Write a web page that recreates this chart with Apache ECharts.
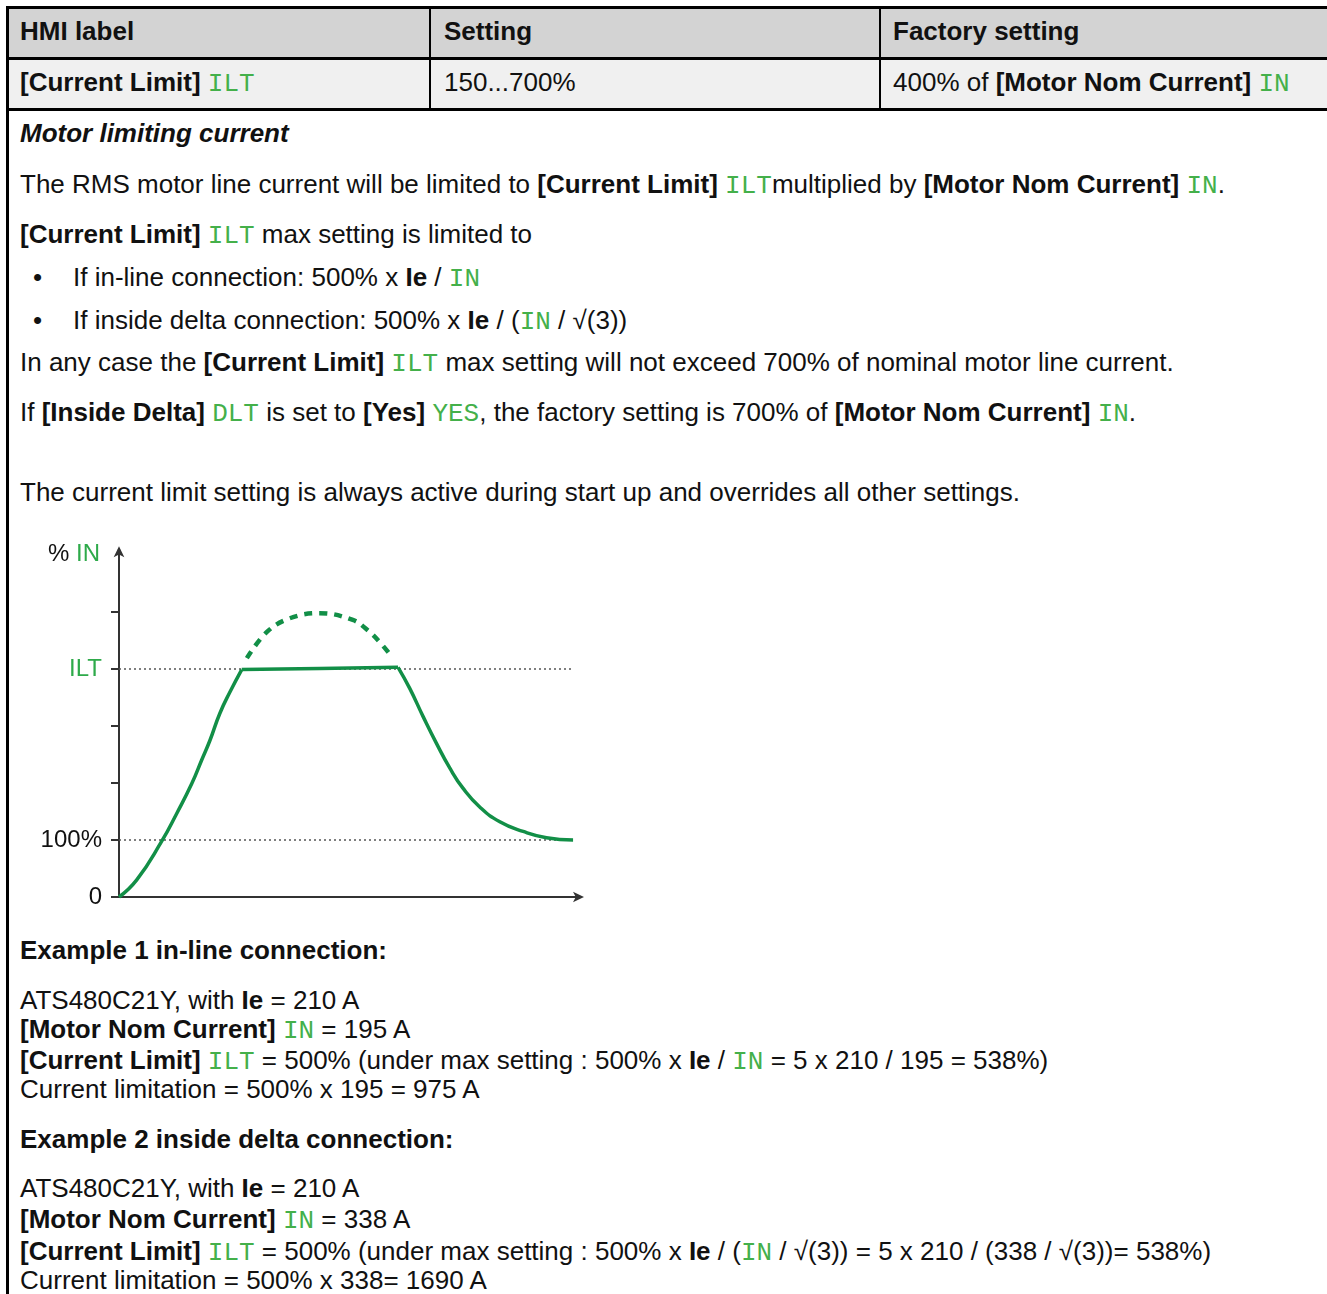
<!DOCTYPE html>
<html>
<head>
<meta charset="utf-8">
<script src="https://cdn.jsdelivr.net/npm/echarts@6/dist/echarts.min.js"></script>
<style>
  html, body { margin: 0; padding: 0; background: #fff; overflow: hidden; }
  body { width: 1327px; height: 1294px; position: relative; font-family: "Liberation Sans", Arial, sans-serif; font-size: 26px; color: #111; }
  .ln { position: absolute; white-space: nowrap; height: 26px; line-height: 26px; }
  .b { font-weight: bold; }
  .bi { font-weight: bold; font-style: italic; }
  .m { font-family: "Liberation Mono", "Courier New", monospace; color: #44b04a; font-size: 26px; display: inline-block; line-height: 22px; height: 22px; }
  .rule { position: absolute; background: #000; }
  .bg { position: absolute; }
</style>
</head>
<body>
<!-- table backgrounds -->
<div class="bg" style="left:7px; top:7px; width:1330px; height:51px; background:#d3d3d3;"></div>
<div class="bg" style="left:7px; top:58px; width:1330px; height:51px; background:#f0f0f0;"></div>
<!-- table rules -->
<div class="rule" style="left:6px; top:6px; width:1330px; height:3px;"></div>
<div class="rule" style="left:6px; top:57px; width:1330px; height:3px;"></div>
<div class="rule" style="left:6px; top:108px; width:1330px; height:3px;"></div>
<div class="rule" style="left:6px; top:6px; width:3px; height:1300px;"></div>
<div class="rule" style="left:429px; top:6px; width:2px; height:104px;"></div>
<div class="rule" style="left:879px; top:6px; width:2px; height:104px;"></div>

<div id="text"></div>
<div id="chart" style="position:absolute; left:0; top:530px; width:620px; height:380px;"></div>

<script>
// ---------- text content ----------
const headerCells = [
  { x: 20, y: 31, html: '<span class="b">HMI label</span>' },
  { x: 444, y: 31, html: '<span class="b">Setting</span>' },
  { x: 893, y: 31, html: '<span class="b">Factory setting</span>' },
  { x: 20, y: 82, html: '<span class="b">[Current Limit]</span> <span class="m">ILT</span>' },
  { x: 444, y: 82, html: '150...700%' },
  { x: 893, y: 82, html: '400% of <span class="b">[Motor Nom Current]</span> <span class="m">IN</span>' }
];
const bodyLines = [
  { x: 20, y: 133, html: '<span class="bi">Motor limiting current</span>' },
  { x: 20, y: 184, html: 'The RMS motor line current will be limited to <span class="b">[Current Limit]</span> <span class="m">ILT</span>multiplied by <span class="b">[Motor Nom Current]</span> <span class="m">IN</span>.' },
  { x: 20, y: 234, html: '<span class="b">[Current Limit]</span> <span class="m">ILT</span> max setting is limited to' },
  { x: 33, y: 277, html: '•' },
  { x: 73, y: 277, html: 'If in-line connection: 500% x <span class="b">Ie</span> / <span class="m">IN</span>' },
  { x: 33, y: 320, html: '•' },
  { x: 73, y: 320, html: 'If inside delta connection: 500% x <span class="b">Ie</span> / (<span class="m">IN</span> / √(3))' },
  { x: 20, y: 362, html: 'In any case the <span class="b">[Current Limit]</span> <span class="m">ILT</span> max setting will not exceed 700% of nominal motor line current.' },
  { x: 20, y: 412, html: 'If <span class="b">[Inside Delta]</span> <span class="m">DLT</span> is set to <span class="b">[Yes]</span> <span class="m">YES</span>, the factory setting is 700% of <span class="b">[Motor Nom Current]</span> <span class="m">IN</span>.' },
  { x: 20, y: 492, html: 'The current limit setting is always active during start up and overrides all other settings.' },
  { x: 20, y: 950, html: '<span class="b">Example 1 in-line connection:</span>' },
  { x: 20, y: 1000, html: 'ATS480C21Y, with <span class="b">Ie</span> = 210 A' },
  { x: 20, y: 1029, html: '<span class="b">[Motor Nom Current]</span> <span class="m">IN</span> = 195 A' },
  { x: 20, y: 1060, html: '<span class="b">[Current Limit]</span> <span class="m">ILT</span> = 500% (under max setting : 500% x <span class="b">Ie</span> / <span class="m">IN</span> = 5 x 210 / 195 = 538%)' },
  { x: 20, y: 1089, html: 'Current limitation = 500% x 195 = 975 A' },
  { x: 20, y: 1139, html: '<span class="b">Example 2 inside delta connection:</span>' },
  { x: 20, y: 1188, html: 'ATS480C21Y, with <span class="b">Ie</span> = 210 A' },
  { x: 20, y: 1219, html: '<span class="b">[Motor Nom Current]</span> <span class="m">IN</span> = 338 A' },
  { x: 20, y: 1251, html: '<span class="b">[Current Limit]</span> <span class="m">ILT</span> = 500% (under max setting : 500% x <span class="b">Ie</span> / (<span class="m">IN</span> / √(3)) = 5 x 210 / (338 / √(3))= 538%)' },
  { x: 20, y: 1280, html: 'Current limitation = 500% x 338= 1690 A' }
];
const textRoot = document.getElementById('text');
headerCells.concat(bodyLines).forEach(function (l) {
  const d = document.createElement('div');
  d.className = 'ln';
  d.style.left = l.x + 'px';
  d.style.top = (l.y - 13) + 'px';
  d.innerHTML = l.html;
  textRoot.appendChild(d);
});

// ---------- chart data ----------
// x: arbitrary time units, y: tick units (1 = 100% IN, 4 = ILT)
const riseX = [0, 3.8, 9.1, 12.4, 15.6, 17.7, 19.5, 21.6, 23.8, 26.3];
const riseY = [0, 0.30, 0.97, 1.47, 1.99, 2.40, 2.75, 3.22, 3.60, 3.99];
const plateauX = [26.3, 43.0, 59.8];
const plateauY = [3.99, 4.01, 4.03];
const fallX = [59.8, 62.3, 65.2, 68.0, 70.9, 73.7, 77.3, 81.6, 86.6, 91.6, 97.3];
const fallY = [4.03, 3.66, 3.16, 2.70, 2.26, 1.91, 1.58, 1.32, 1.15, 1.04, 1.00];
const unlimitedX = [27.4, 31.7, 36.6, 43.0, 50.1, 53.3, 55.9, 58.5];
const unlimitedY = [4.19, 4.65, 4.89, 4.98, 4.86, 4.68, 4.47, 4.21];
const refLevels = [1, 4];
const refLineEndX = 97.2;
const yTickValues = [0, 1, 2, 3, 4, 5];
const yLabelValues = [0, 1, 4];
const yLabelTexts = { 0: '0', 1: '100%', 4: '{g|ILT}' };

function pairs(xs, ys) { return xs.map(function (x, i) { return [x, ys[i]]; }); }

const curveColor = '#128f47';
const series = [];
refLevels.forEach(function (lv) {
  series.push({
    type: 'line', data: [[0, lv], [refLineEndX, lv]], symbol: 'none', silent: true, z: 1,
    lineStyle: { color: '#555', width: 1.5, type: [2, 3] }
  });
});
series.push({ type: 'line', data: pairs(riseX, riseY), smooth: 0.5, symbol: 'none', z: 3,
  lineStyle: { color: curveColor, width: 3.5 } });
series.push({ type: 'line', data: pairs(plateauX, plateauY), smooth: false, symbol: 'none', z: 3,
  lineStyle: { color: curveColor, width: 3.5 } });
series.push({ type: 'line', data: pairs(fallX, fallY), smooth: 0.5, symbol: 'none', z: 3,
  lineStyle: { color: curveColor, width: 3.5 } });
series.push({ type: 'line', data: pairs(unlimitedX, unlimitedY), smooth: 0.4, symbol: 'none', z: 3,
  lineStyle: { color: curveColor, width: 4.5, type: [8, 7] } });

const chart = echarts.init(document.getElementById('chart'), null, { renderer: 'canvas' });
chart.setOption({
  animation: false,
  grid: { left: 119, right: 39, top: 19.3, bottom: 13 },
  xAxis: {
    type: 'value', min: 0, max: 99,
    axisLine: { show: true, onZero: false, symbol: ['none', 'arrow'], symbolSize: [8, 11], symbolOffset: [0, 3],
      lineStyle: { color: '#333', width: 2 } },
    axisTick: { show: false }, axisLabel: { show: false }, splitLine: { show: false }
  },
  yAxis: {
    type: 'value', min: 0, max: 6.1,
    name: '% {g|IN}', nameLocation: 'end', nameGap: -5,
    nameTextStyle: { align: 'right', verticalAlign: 'middle', padding: [0, 19, 0, 0],
      fontFamily: 'Liberation Sans', fontSize: 24, color: '#111',
      rich: { g: { color: '#2eaa4a', fontFamily: 'Liberation Sans', fontSize: 24 } } },
    axisLine: { show: true, onZero: false, symbol: ['none', 'arrow'], symbolSize: [8, 11], symbolOffset: [0, 3],
      lineStyle: { color: '#333', width: 2 } },
    axisTick: { show: true, customValues: yTickValues, length: 8, lineStyle: { color: '#333', width: 2 } },
    axisLabel: { show: true, customValues: yLabelValues, margin: 17, fontFamily: 'Liberation Sans', fontSize: 24, color: '#111',
      formatter: function (v) { return yLabelTexts[v] || ''; },
      rich: { g: { color: '#2eaa4a', fontFamily: 'Liberation Sans', fontSize: 24 } } },
    splitLine: { show: false }
  },
  series: series
});
</script>
</body>
</html>
